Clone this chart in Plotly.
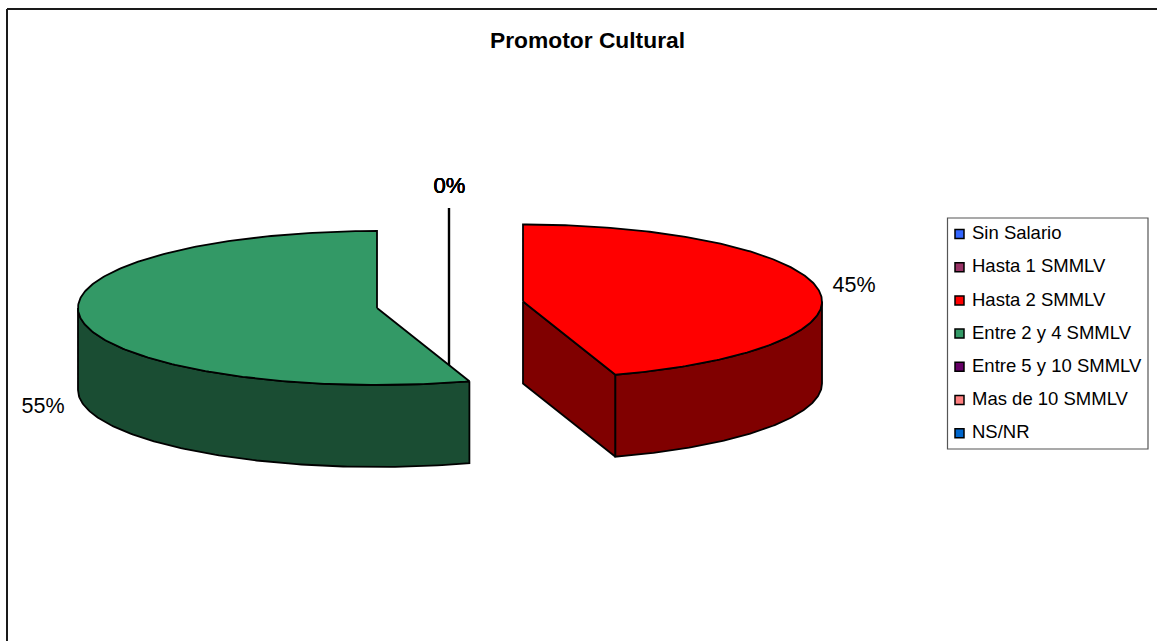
import numpy as np
import plotly.graph_objects as go

# ---- data ----
categories = ["Sin Salario", "Hasta 1 SMMLV", "Hasta 2 SMMLV", "Entre 2 y 4 SMMLV",
              "Entre 5 y 10 SMMLV", "Mas de 10 SMMLV", "NS/NR"]
values = [0, 0, 45, 55, 0, 0, 0]
title_text = "Promotor Cultural"

# ---- style ----
top_colors = ["#3366FF", "#993366", "#FF0000", "#339966", "#660066", "#FF8080", "#0066CC"]
side_colors = {"Hasta 2 SMMLV": "#800000", "Entre 2 y 4 SMMLV": "#1A4D33"}
centers = {"Hasta 2 SMMLV": (523, 301.5), "Entre 2 y 4 SMMLV": (377, 308)}
label_pos = {"Hasta 2 SMMLV": (854, 287), "Entre 2 y 4 SMMLV": (43, 408)}
RX, RY, DEPTH = 299, 77, 82
FONT = "Liberation Sans, Arial, sans-serif"
W, H = 1157, 641


def pt(cx, cy, deg, drop=0):
    t = np.radians(deg)
    return cx + RX * np.sin(t), cy - RY * np.cos(t) + drop


fig = go.Figure()


def poly(xs, ys, fill):
    fig.add_trace(go.Scatter(x=xs, y=ys, mode="lines", fill="toself", fillcolor=fill,
                             line=dict(color="#000000", width=1.8), showlegend=False,
                             hoverinfo="skip"))


total = sum(values)
cum = 0
slices = []
for cat, val, col in zip(categories, values, top_colors):
    start = cum / total * 360
    cum += val
    end = cum / total * 360
    slices.append((cat, val, col, start, end))

# leader line of the zero-value labels
fig.add_trace(go.Scatter(x=[449, 449], y=[208, 367], mode="lines",
                         line=dict(color="#000000", width=2.4), showlegend=False, hoverinfo="skip"))

for cat, val, col, start, end in slices:
    if val == 0:
        continue
    cx, cy = centers[cat]
    side = side_colors[cat]
    # cut face visible when the slice's end edge lies on the front right
    if 90 < end < 180:
        ax, ay = pt(cx, cy, end)
        poly([cx, ax, ax, cx, cx], [cy, ay, ay + DEPTH, cy + DEPTH, cy], side)
    # outer wall: the part of the rim that faces the viewer (90..270 degrees)
    a0, a1 = max(start, 90), min(end, 270)
    if a1 > a0:
        th = np.linspace(a0, a1, 120)
        xt, yt = pt(cx, cy, th)
        xb, yb = pt(cx, cy, th[::-1], DEPTH)
        poly(list(xt) + list(xb) + [xt[0]], list(yt) + list(yb) + [yt[0]], side)
    # top face
    th = np.linspace(start, end, 240)
    xs, ys = pt(cx, cy, th)
    poly([cx] + list(xs) + [cx], [cy] + list(ys) + [cy], col)
    # percentage label
    lx, ly = label_pos[cat]
    fig.add_trace(go.Scatter(x=[lx], y=[ly], mode="text", text=[f"{val}%"],
                             textposition="middle center",
                             textfont=dict(family=FONT, size=21.5, color="#000000"),
                             showlegend=False, hoverinfo="skip"))

# zero labels, one per empty category, all stacked at the same place
for cat, val in zip(categories, values):
    if val == 0:
        fig.add_trace(go.Scatter(x=[449.5], y=[187], mode="text", text=[f"{val}%"],
                                 textposition="middle center",
                                 textfont=dict(family=FONT, size=22, color="#000000"),
                                 showlegend=False, hoverinfo="skip"))

# legend key
for i, (cat, col) in enumerate(zip(categories, top_colors)):
    y = 234 + i * 33.2
    fig.add_trace(go.Scatter(x=[959.5], y=[y], mode="markers",
                             marker=dict(symbol="square", size=9, color=col,
                                         line=dict(color="#000000", width=1.5)),
                             showlegend=False, hovertext=[cat], hoverinfo="text"))
    fig.add_trace(go.Scatter(x=[972], y=[y + 0.5], mode="text", text=[cat],
                             textposition="middle right",
                             textfont=dict(family=FONT, size=18.5, color="#000000"),
                             showlegend=False, hoverinfo="skip"))

shapes = [
    dict(type="line", x0=7, y0=9, x1=W + 20, y1=9, line=dict(color="#1a1a1a", width=2)),
    dict(type="line", x0=7, y0=9, x1=7, y1=H + 20, line=dict(color="#1a1a1a", width=2)),
    dict(type="rect", x0=947.5, y0=218, x1=1148, y1=449,
         line=dict(color="#555555", width=1.2), layer="below"),
]

fig.update_layout(
    width=W, height=H, margin=dict(l=0, r=0, t=0, b=0, pad=0),
    paper_bgcolor="#FFFFFF", plot_bgcolor="#FFFFFF", showlegend=False,
    title=dict(text=f"<b>{title_text}</b>", x=587.5 / W, y=1 - 40 / H, xanchor="center", yanchor="middle",
               font=dict(family=FONT, size=22.8, color="#000000")),
    xaxis=dict(range=[0, W], visible=False, fixedrange=True),
    yaxis=dict(range=[H, 0], visible=False, fixedrange=True),
    shapes=shapes,
)
fig.write_html("out.html", config={"displayModeBar": False},
               post_script="document.body.style.margin='0';document.body.style.overflow='hidden';")
